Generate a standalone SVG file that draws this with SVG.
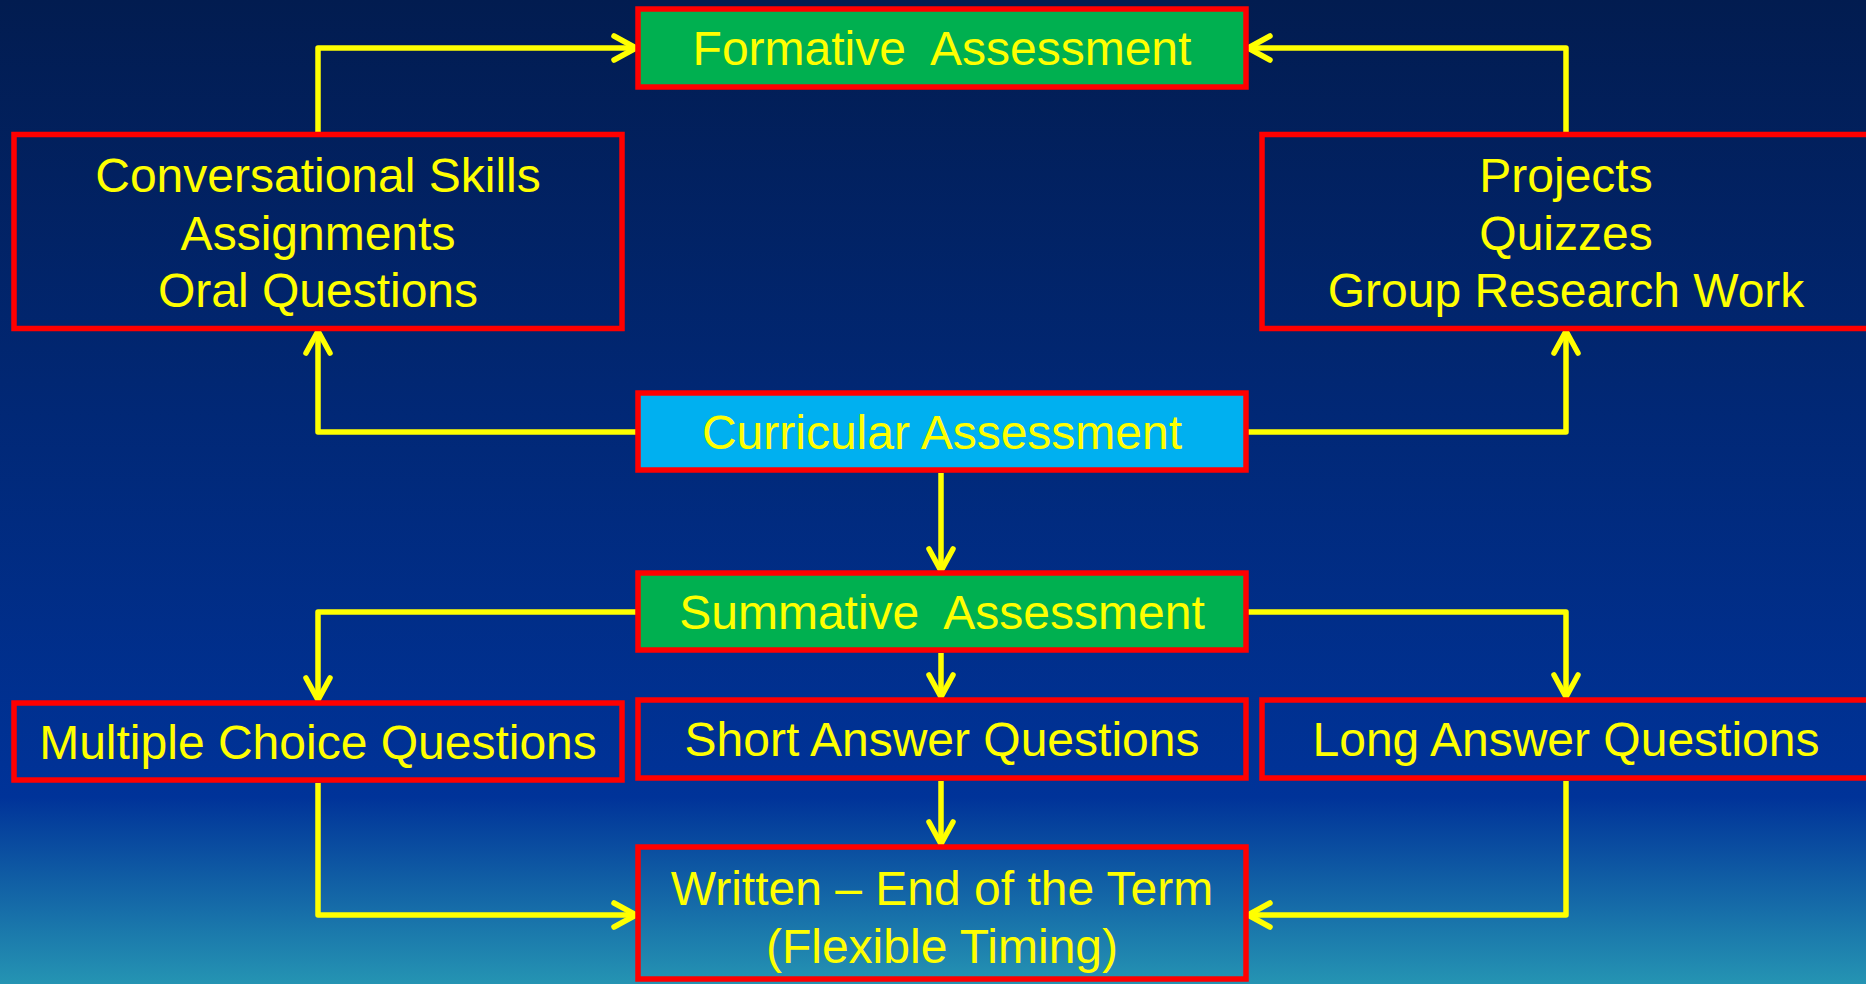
<svg xmlns="http://www.w3.org/2000/svg" width="1866" height="984" viewBox="0 0 1866 984">
<defs>
<linearGradient id="bg" x1="0" y1="0" x2="0" y2="1">
<stop offset="0" stop-color="#021c50"/>
<stop offset="0.81" stop-color="#003399"/>
<stop offset="1" stop-color="#2594b3"/>
</linearGradient>
<marker id="arr" markerUnits="userSpaceOnUse" markerWidth="40" markerHeight="40" viewBox="-30 -20 40 40" refX="0" refY="0" orient="auto" overflow="visible">
<path d="M-22,-12 L0,0 L-22,12" fill="none" stroke="#ffff00" stroke-width="5.5" stroke-linecap="round" stroke-linejoin="round"/>
</marker>
<style>
.box{fill:none;stroke:#ff0000;stroke-width:5.5}
.green{fill:#00b050}
.blue{fill:#00b0f0}
.t{font-family:"Liberation Sans",Arial,sans-serif;font-size:48px;fill:#ffff00;text-anchor:middle;white-space:pre}
.c{fill:none;stroke:#ffff00;stroke-width:5.5;stroke-linejoin:round}
</style>
</defs>
<rect x="0" y="0" width="1866" height="984" fill="url(#bg)"/>
<g id="connectors">
<path class="c" d="M318,132 V48 H636" marker-end="url(#arr)"/>
<path class="c" d="M1566,132 V48 H1248" marker-end="url(#arr)"/>
<path class="c" d="M636,432 H318 V331" marker-end="url(#arr)"/>
<path class="c" d="M1248,432 H1566 V331" marker-end="url(#arr)"/>
<path class="c" d="M941,473 V571" marker-end="url(#arr)"/>
<path class="c" d="M636,612 H318 V700" marker-end="url(#arr)"/>
<path class="c" d="M1248,612 H1566 V697" marker-end="url(#arr)"/>
<path class="c" d="M941,653 V697" marker-end="url(#arr)"/>
<path class="c" d="M941,781 V844" marker-end="url(#arr)"/>
<path class="c" d="M318,783 V915 H636" marker-end="url(#arr)"/>
<path class="c" d="M1566,781 V915 H1248" marker-end="url(#arr)"/>
</g>
<g id="formative">
<rect class="box green" x="638" y="9" width="608" height="78"/>
<text class="t" x="942" y="65">Formative  Assessment</text>
</g>
<g id="conversational">
<rect class="box" x="14" y="134.5" width="608" height="194"/>
<text class="t" x="318" y="192">Conversational Skills</text>
<text class="t" x="318" y="250">Assignments</text>
<text class="t" x="318" y="307">Oral Questions</text>
</g>
<g id="projects">
<rect class="box" x="1262" y="134.5" width="608" height="194"/>
<text class="t" x="1566" y="192">Projects</text>
<text class="t" x="1566" y="250">Quizzes</text>
<text class="t" x="1566" y="307">Group Research Work</text>
</g>
<g id="curricular">
<rect class="box blue" x="638" y="393" width="608" height="77"/>
<text class="t" x="942" y="449">Curricular Assessment</text>
</g>
<g id="summative">
<rect class="box green" x="638" y="573" width="608" height="77"/>
<text class="t" x="942" y="629">Summative  Assessment</text>
</g>
<g id="mcq">
<rect class="box" x="14" y="703" width="608" height="77"/>
<text class="t" x="318" y="759">Multiple Choice Questions</text>
</g>
<g id="short">
<rect class="box" x="638" y="700" width="608" height="78"/>
<text class="t" x="942" y="756">Short Answer Questions</text>
</g>
<g id="long">
<rect class="box" x="1262" y="700" width="608" height="78"/>
<text class="t" x="1566" y="756">Long Answer Questions</text>
</g>
<g id="written">
<rect class="box" x="638" y="847" width="608" height="132"/>
<text class="t" x="942" y="905">Written – End of the Term</text>
<text class="t" x="942" y="963">(Flexible Timing)</text>
</g>
</svg>
